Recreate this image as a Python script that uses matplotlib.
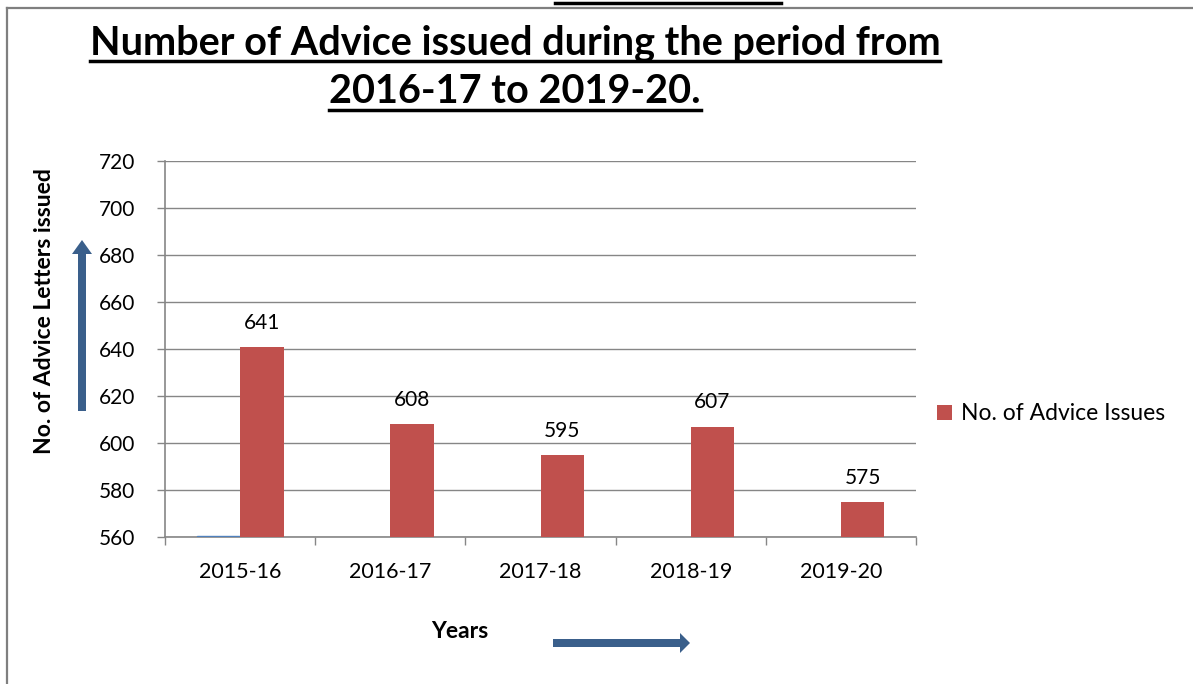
import matplotlib
matplotlib.use("Agg")
import numpy as np
import matplotlib.pyplot as plt
from matplotlib.lines import Line2D
from matplotlib.patches import FancyArrow

# dane
years = ["2015-16", "2016-17", "2017-18", "2018-19", "2019-20"]
advice_issues = [641, 608, 595, 607, 575]
other_series = [560.4, np.nan, np.nan, np.nan, np.nan]  # niebieska kreska przy osi w 2015-16
y_ticks = [560, 580, 600, 620, 640, 660, 680, 700, 720]

W, H = 1193, 684
FONT = "Lato"
RED = "#C0504D"
BLUE = "#4F81BD"
ARROW = "#3A5F8B"
GRID = "#868686"

plt.rcParams["font.family"] = [FONT, "DejaVu Sans"]

fig = plt.figure(figsize=(W / 100, H / 100), dpi=100)
fig.patch.set_facecolor("white")


def px(x, y):
    return x / W, 1 - y / H


# obszar wykresu
l, b = px(165, 537)
r, t = px(916, 161)
ax = fig.add_axes([l, b, r - l, t - b])

x = np.arange(len(years))
bw = 0.29
ax.bar(x - bw / 2, np.array(other_series) - 560, bw, bottom=560, color=BLUE,
       edgecolor=BLUE, linewidth=1, zorder=3)
bars = ax.bar(x + bw / 2, np.array(advice_issues) - 560, bw, bottom=560, color=RED,
              zorder=3, label="No. of Advice Issues")

for bar, val in zip(bars, advice_issues):
    ax.text(bar.get_x() + bar.get_width() / 2, val + 6, f"{val}",
            ha="center", va="bottom", fontsize=15, color="black")

ax.set_xlim(-0.5, len(years) - 0.5)
ax.set_ylim(560, 720)
ax.set_yticks(y_ticks)
ax.set_yticklabels([str(v) for v in y_ticks], fontsize=15)
ax.set_xticks(x)
ax.set_xticklabels(years, fontsize=15.5)
ax.set_xticks(np.arange(len(years) + 1) - 0.5, minor=True)
ax.tick_params(axis="x", which="major", length=0, pad=18)
ax.tick_params(axis="x", which="minor", length=5.8, color=GRID, width=1, direction="out")
ax.tick_params(axis="y", length=5.8, color=GRID, width=1, pad=15.5)
ax.grid(axis="y", color=GRID, linewidth=1, zorder=0)
for s in ["top", "right"]:
    ax.spines[s].set_visible(False)
for s in ["left", "bottom"]:
    ax.spines[s].set_color(GRID)
    ax.spines[s].set_linewidth(1.2)

# legenda
fig.legend(handles=[bars], labels=["No. of Advice Issues"], loc="center left",
           bbox_to_anchor=px(937, 414), frameon=False, fontsize=16.5,
           borderaxespad=0, borderpad=0,
           handlelength=0.65, handleheight=0.65, handletextpad=0.4)

# tytuł z podkreśleniem
t1 = fig.text(*px(515, 55), "Number of Advice issued during the period from",
              ha="center", va="baseline", fontsize=28.5, fontweight="bold")
t2 = fig.text(*px(515, 103), "2016-17 to 2019-20.",
              ha="center", va="baseline", fontsize=28.5, fontweight="bold")

# etykiety osi
fig.text(*px(45, 311), "No. of Advice Letters issued", rotation=90,
         ha="center", va="center", fontsize=16.5, fontweight="bold")
fig.text(*px(460, 632), "Years", ha="center", va="center",
         fontsize=16.5, fontweight="bold")

# strzałki
ax_arr = fig.add_axes([0, 0, 1, 1], zorder=5)
ax_arr.set_xlim(0, W)
ax_arr.set_ylim(H, 0)
ax_arr.axis("off")
ax_arr.add_patch(FancyArrow(82, 411, 0, -171, width=8, head_width=20,
                            head_length=14, length_includes_head=True,
                            color=ARROW, linewidth=0))
ax_arr.add_patch(FancyArrow(553, 643, 137, 0, width=8, head_width=20,
                            head_length=10, length_includes_head=True,
                            color=ARROW, linewidth=0))

# ramka i obcięty nagłówek u góry
ax_arr.add_line(Line2D([7, W], [8, 8], color="#7F7F7F", linewidth=1.6))
ax_arr.add_line(Line2D([7, 7], [8, H], color="#7F7F7F", linewidth=1.6))
ax_arr.add_line(Line2D([555, 781], [2.5, 2.5], color="black", linewidth=2.5))

# podkreślenia tytułu
fig.canvas.draw()
renderer = fig.canvas.get_renderer()
for txt, yl in [(t1, 61), (t2, 110)]:
    bb = txt.get_window_extent(renderer)
    ax_arr.add_line(Line2D([bb.x0, bb.x1], [yl, yl], color="black", linewidth=2.5))

fig.savefig("out.png", dpi=100)
